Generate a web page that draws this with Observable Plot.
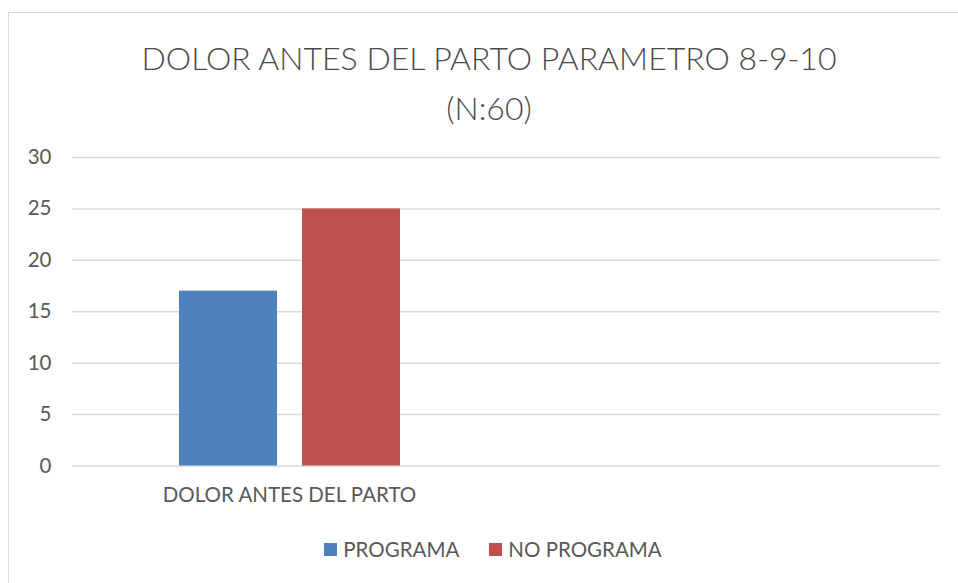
<!DOCTYPE html>
<html>
<head>
<meta charset="utf-8">
<script src="https://cdn.jsdelivr.net/npm/d3@7"></script>
<script src="https://cdn.jsdelivr.net/npm/@observablehq/plot@0.6"></script>
<style>
  html, body { margin: 0; padding: 0; background: #fff; }
  #wrap { position: relative; width: 958px; height: 583px; overflow: hidden; font-family: Lato, "Open Sans", sans-serif; color: #595959; }
  #frame { position: absolute; left: 8px; top: 12px; width: 970px; height: 600px; border: 1.5px solid #d9d9d9; box-sizing: border-box; }
  #title { position: absolute; left: 0; top: 33px; width: 978px; text-align: center; font-size: 32px; font-weight: 300; line-height: 50px; color: #4a4a4a; }
  #chart { position: absolute; left: 0; top: 130px; }
  #legend { position: absolute; left: 0; top: 537px; width: 986px; display: flex; justify-content: center; gap: 30px; font-size: 20.5px; }
  .item { display: flex; align-items: center; gap: 6px; }
  .sw { width: 13px; height: 13px; display: inline-block; }
</style>
</head>
<body>
<div id="wrap">
  <div id="frame"></div>
  <div id="title"></div>
  <div id="chart"></div>
  <div id="legend"></div>
</div>
<script>
const titleLines = ["DOLOR ANTES DEL PARTO PARAMETRO 8-9-10", "(N:60)"];
const categories = ["DOLOR ANTES DEL PARTO", " "];
const series = ["PROGRAMA", "NO PROGRAMA"];
const values = [17, 25];
const colors = ["#4f81bd", "#c0504d"];
const yTicks = [0, 5, 10, 15, 20, 25, 30];

const data = series.map((s, i) => ({cat: categories[0], series: s, value: values[i]}));
// keep the empty second category slot present
const placeholder = [{cat: categories[1], series: series[0], value: NaN}];

document.getElementById("title").innerHTML = titleLines.map(t => `<div>${t}</div>`).join("");

const chart = Plot.plot({
  width: 958,
  height: 400,
  marginLeft: 72,
  marginRight: 18,
  marginTop: 27,
  marginBottom: 64.5,
  style: {fontFamily: "Lato, 'Open Sans', sans-serif", fontSize: "20.5px", color: "#595959", background: "transparent"},
  fx: {domain: categories, padding: 0, label: null, axis: "bottom", tickSize: 0, tickPadding: 21},
  x: {domain: series, paddingInner: 0.2033, paddingOuter: 0.864, axis: null},
  y: {domain: [0, 30], ticks: yTicks, label: null, tickSize: 0, tickPadding: 21},
  color: {domain: series, range: colors},
  marks: [
    Plot.ruleY(yTicks, {stroke: "#d9d9d9", strokeWidth: 1.5}),
    Plot.barY(placeholder, {fx: "cat", x: "series", y: "value"}),
    Plot.barY(data, {fx: "cat", x: "series", y: "value", fill: "series"})
  ]
});
document.getElementById("chart").appendChild(chart);

const legend = document.getElementById("legend");
series.forEach((s, i) => {
  const item = document.createElement("div");
  item.className = "item";
  item.innerHTML = `<span class="sw" style="background:${colors[i]}"></span><span>${s}</span>`;
  legend.appendChild(item);
});
</script>
</body>
</html>
